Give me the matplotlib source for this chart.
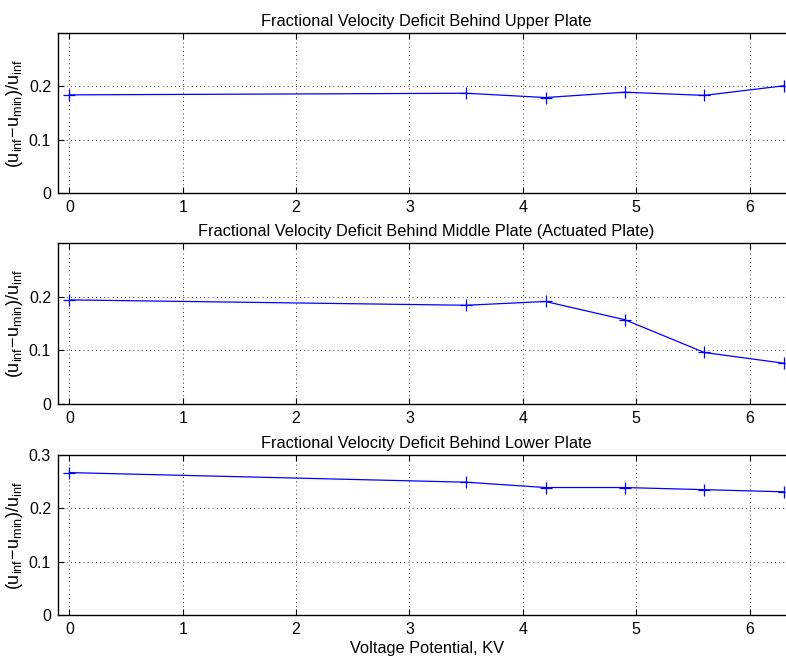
import numpy as np
import matplotlib.pyplot as plt

plt.rcParams['font.family'] = ['Liberation Sans', 'DejaVu Sans']
plt.rcParams['mathtext.fontset'] = 'custom'
plt.rcParams['mathtext.rm'] = 'Liberation Sans'
plt.rcParams['mathtext.it'] = 'Liberation Sans'

voltage = [0, 3.5, 4.2, 4.9, 5.6, 6.3]
upper = [0.184, 0.187, 0.179, 0.189, 0.183, 0.201]
middle = [0.194, 0.184, 0.191, 0.157, 0.096, 0.076]
lower = [0.267, 0.249, 0.239, 0.239, 0.235, 0.231]

titles = ["Fractional Velocity Deficit Behind Upper Plate",
          "Fractional Velocity Deficit Behind Middle Plate (Actuated Plate)",
          "Fractional Velocity Deficit Behind Lower Plate"]
ylab = r'$\mathregular{(u_{inf}\!-\!u_{min})/u_{inf}}$'

W, H = 786, 660
fig = plt.figure(figsize=(W / 100, H / 100), dpi=100)

# pixel boxes (left, top, right, bottom)
boxes = [(58, 33, 795, 193), (58, 243, 795, 404), (58, 455, 795, 615)]
series = [upper, middle, lower]
yticks = [[0, 0.1, 0.2], [0, 0.1, 0.2], [0, 0.1, 0.2, 0.3]]

for k in range(3):
    l, t, r, b = boxes[k]
    ax = fig.add_axes([l / W, 1 - b / H, (r - l) / W, (b - t) / H])
    ax.plot(voltage, series[k], color='#0000ff', lw=0.9, marker='+',
            ms=8, mew=0.9)
    ax.set_xlim(-0.1, 6.4)
    ax.set_ylim(0, 0.3)
    ax.set_xticks([0, 1, 2, 3, 4, 5, 6])
    ax.set_yticks(yticks[k])
    ax.set_yticklabels([("%g" % v) for v in yticks[k]])
    ax.grid(True, color='k', linestyle=(0, (1, 4)), linewidth=0.6)
    ax.tick_params(direction='in', top=True, right=True, length=4,
                   labelsize=11.5, pad=5)
    for s in ax.spines.values():
        s.set_linewidth(1.0)
    ax.set_title(titles[k], fontsize=11.8, pad=5)
    ax.set_ylabel(ylab, fontsize=13)
    ax.yaxis.set_label_coords(-0.045, 0.5)
    if k == 2:
        ax.set_xlabel("Voltage Potential, KV", fontsize=11.8, labelpad=3)

fig.savefig("out.png", dpi=100)
